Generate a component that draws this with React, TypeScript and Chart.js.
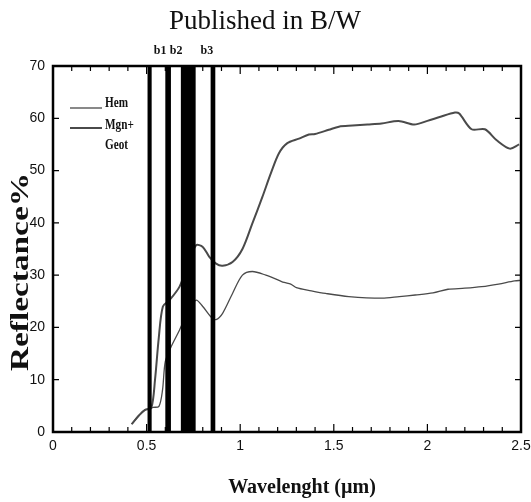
import React, { useEffect, useRef } from "react";
import { Chart, registerables } from "chart.js";

Chart.register(...registerables);

const chartTitle = "Published in B/W";
const xTitle = "Wavelenght (\u00b5m)";
const yTitle = "Reflectance%";

const hemX = [0.42, 0.46, 0.49, 0.534, 0.566, 0.585, 0.6, 0.631, 0.676, 0.72, 0.764, 0.8, 0.844, 0.871, 0.906, 0.959, 1.012, 1.065, 1.137, 1.207, 1.235, 1.27, 1.3, 1.38, 1.456, 1.58, 1.757, 1.85, 1.935, 2.03, 2.11, 2.2, 2.29, 2.38, 2.466, 2.5];
const hemY = [1.5, 3.2, 4.2, 4.7, 4.9, 8.0, 13.5, 16.3, 19.5, 23.0, 25.2, 24.0, 22.0, 21.5, 22.7, 26.5, 30.0, 30.7, 30.0, 29.0, 28.6, 28.3, 27.6, 27.0, 26.5, 25.9, 25.6, 25.9, 26.2, 26.6, 27.3, 27.5, 27.8, 28.3, 28.9, 29.0];

const mgnX = [0.42, 0.46, 0.49, 0.525, 0.545, 0.565, 0.587, 0.622, 0.676, 0.72, 0.764, 0.8, 0.835, 0.871, 0.906, 0.959, 1.012, 1.065, 1.119, 1.163, 1.207, 1.25, 1.314, 1.367, 1.4, 1.473, 1.527, 1.6, 1.68, 1.755, 1.846, 1.93, 2.0, 2.07, 2.147, 2.17, 2.236, 2.307, 2.37, 2.44, 2.49];
const mgnY = [1.5, 3.2, 4.2, 4.6, 10.0, 18.0, 24.0, 25.2, 27.8, 32.0, 35.7, 35.4, 33.5, 32.2, 31.8, 32.5, 35.0, 39.9, 45.0, 49.4, 53.3, 55.2, 56.1, 56.9, 57.0, 57.8, 58.4, 58.6, 58.8, 59.0, 59.5, 58.8, 59.5, 60.3, 61.1, 60.9, 57.9, 57.9, 55.8, 54.2, 55.0];

const bandStart = [0.505, 0.6, 0.683, 0.842];
const bandEnd = [0.527, 0.63, 0.762, 0.867];
const bandLabels = ["b1", "b2", "b3"];
const bandLabelX = [0.572, 0.658, 0.822];

const seriesNames = ["Hem", "Mgn+"];
const legendExtra = "Geot";

const lineColor = "#4a4a4a";

const decor = {
  id: "decor",
  afterDatasetsDraw(chart: any) {
    const { ctx, chartArea: a, scales } = chart;
    const xs = scales.x;
    const ys = scales.y;
    ctx.save();
    ctx.fillStyle = "#000";
    for (let i = 0; i < bandStart.length; i++) {
      const x0 = xs.getPixelForValue(bandStart[i]);
      const x1 = xs.getPixelForValue(bandEnd[i]);
      ctx.fillRect(x0, a.top, x1 - x0, a.bottom - a.top);
    }
    ctx.strokeStyle = "#000";
    ctx.lineWidth = 1.2;
    ctx.beginPath();
    for (let i = 0; i <= 25; i++) {
      const px = xs.getPixelForValue(i / 10);
      const len = i % 5 === 0 ? 8 : 5;
      ctx.moveTo(px, a.bottom);
      ctx.lineTo(px, a.bottom - len);
      ctx.moveTo(px, a.top);
      ctx.lineTo(px, a.top + len);
    }
    for (let v = 0; v <= 70; v += 10) {
      const py = ys.getPixelForValue(v);
      ctx.moveTo(a.left, py);
      ctx.lineTo(a.left + 6, py);
      ctx.moveTo(a.right, py);
      ctx.lineTo(a.right - 6, py);
    }
    ctx.stroke();
    ctx.lineWidth = 2.5;
    ctx.strokeRect(a.left, a.top, a.right - a.left, a.bottom - a.top);
    ctx.restore();
  },
  afterDraw(chart: any) {
    const { ctx, chartArea: a, scales } = chart;
    const xs = scales.x;
    ctx.save();
    ctx.fillStyle = "#111";
    ctx.textAlign = "center";
    ctx.textBaseline = "middle";
    ctx.font = '27px "Liberation Serif"';
    ctx.fillText(chartTitle, 265, 22);

    ctx.font = 'bold 12px "Liberation Serif"';
    for (let i = 0; i < bandLabels.length; i++) {
      ctx.fillText(bandLabels[i], xs.getPixelForValue(bandLabelX[i]), 51);
    }

    ctx.font = 'bold 20px "Liberation Serif"';
    ctx.fillText(xTitle, 302, 488);

    ctx.save();
    ctx.translate(22, 272);
    ctx.rotate(-Math.PI / 2);
    ctx.font = 'bold 25px "Liberation Serif"';
    const w = ctx.measureText(yTitle).width;
    ctx.scale(198 / w, 1);
    ctx.fillText(yTitle, 0, 0);
    ctx.restore();

    // legend
    const lx0 = a.left + 17;
    const lx1 = a.left + 49;
    ctx.strokeStyle = lineColor;
    ctx.lineWidth = 1.3;
    ctx.beginPath();
    ctx.moveTo(lx0, 108);
    ctx.lineTo(lx1, 108);
    ctx.stroke();
    ctx.lineWidth = 2;
    ctx.beginPath();
    ctx.moveTo(lx0, 128);
    ctx.lineTo(lx1, 128);
    ctx.stroke();
    ctx.textAlign = "left";
    ctx.font = 'bold 14px "Liberation Serif"';
    const texts = [
      [seriesNames[0], 103],
      [seriesNames[1], 125],
      [legendExtra, 145],
    ];
    for (const [t, y] of texts as any) {
      ctx.save();
      ctx.translate(lx1 + 3, y);
      ctx.scale(0.8, 1);
      ctx.fillText(t, 0, 0);
      ctx.restore();
    }
    ctx.restore();
  },
};

export default function App() {
  const ref = useRef<HTMLCanvasElement>(null);
  useEffect(() => {
    if (!ref.current) return;
    const chart = new Chart(ref.current, {
      type: "line",
      data: {
        datasets: [
          {
            label: seriesNames[0],
            data: hemX.map((x, i) => ({ x, y: hemY[i] })),
            borderColor: lineColor,
            borderWidth: 1.3,
            pointRadius: 0,
            tension: 0.3,
            fill: false,
          },
          {
            label: seriesNames[1] + " " + legendExtra,
            data: mgnX.map((x, i) => ({ x, y: mgnY[i] })),
            borderColor: lineColor,
            borderWidth: 2,
            pointRadius: 0,
            tension: 0.3,
            fill: false,
          },
        ],
      },
      options: {
        animation: false,
        responsive: false,
        maintainAspectRatio: false,
        layout: { padding: { top: 66, right: 10, left: 0, bottom: 0 } },
        plugins: { legend: { display: false }, tooltip: { enabled: false }, title: { display: false } },
        scales: {
          x: {
            type: "linear",
            min: 0,
            max: 2.5,
            afterFit: (s: any) => {
              s.height = 70;
              s.paddingRight = 0;
              s.paddingLeft = 0;
            },
            ticks: {
              stepSize: 0.5,
              padding: 6,
              color: "#111",
              font: { family: '"Liberation Sans", Arial, sans-serif', size: 14 },
              maxRotation: 0,
              callback: (v: any) => String(Number(v)),
            },
            grid: { display: false, drawTicks: false },
            border: { display: false },
          },
          y: {
            type: "linear",
            min: 0,
            max: 70,
            afterFit: (s: any) => {
              s.width = 53;
              s.paddingTop = 0;
              s.paddingBottom = 0;
            },
            ticks: {
              stepSize: 10,
              padding: 8,
              color: "#111",
              font: { family: '"Liberation Sans", Arial, sans-serif', size: 14 },
            },
            grid: { display: false, drawTicks: false },
            border: { display: false },
          },
        },
      },
      plugins: [decor],
    });
    return () => chart.destroy();
  }, []);
  return (
    <div style={{ position: "absolute", left: 0, top: 0, width: 531, height: 502, background: "#fff" }}>
      <canvas ref={ref} width={531} height={502} style={{ display: "block" }} />
    </div>
  );
}
